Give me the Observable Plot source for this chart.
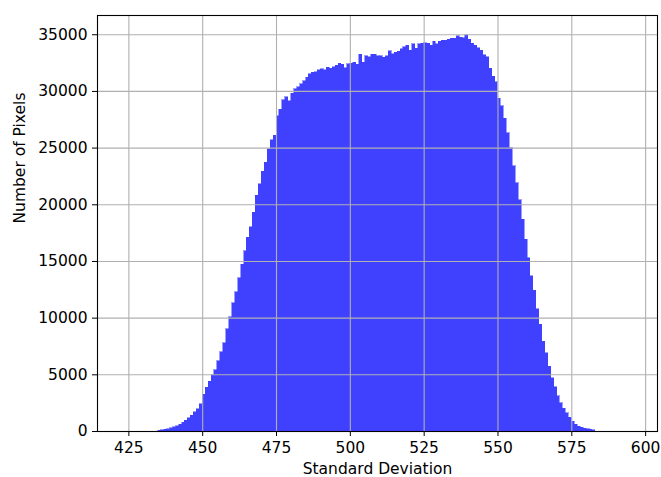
<!DOCTYPE html>
<html>
<head>
<meta charset="utf-8">
<script src="https://cdn.jsdelivr.net/npm/d3@7"></script>
<script src="https://cdn.jsdelivr.net/npm/@observablehq/plot@0.6"></script>
<style>
  html, body { margin: 0; padding: 0; background: #fff; }
  #chart svg { display: block; }
  #chart rect.bar-rect, #chart g.bars rect { shape-rendering: crispEdges; }
</style>
</head>
<body>
<div id="chart"></div>
<script>
// Bin left edges (Standard Deviation), bin width 1
const binStart = [
  435,436,437,438,439,440,441,442,443,444,445,446,447,448,449,
  450,451,452,453,454,455,456,457,458,459,460,461,462,463,464,
  465,466,467,468,469,470,471,472,473,474,475,476,477,478,479,
  480,481,482,483,484,485,486,487,488,489,490,491,492,493,494,
  495,496,497,498,499,500,501,502,503,504,505,506,507,508,509,
  510,511,512,513,514,515,516,517,518,519,520,521,522,523,524,
  525,526,527,528,529,530,531,532,533,534,535,536,537,538,539,
  540,541,542,543,544,545,546,547,548,549,550,551,552,553,554,
  555,556,557,558,559,560,561,562,563,564,565,566,567,568,569,
  570,571,572,573,574,575,576,577,578,579,580,581,582
];
const binWidth = 1;
// Number of pixels in each bin
const pixelCount = [
  60,100,150,200,280,380,480,600,780,950,1150,1400,1700,1950,2400,
  3250,3850,4400,4950,5400,6200,7000,7800,9000,10100,11300,12300,13500,14700,15900,
  17100,18000,19300,20800,21800,22900,23700,24900,25700,26100,27800,28400,29200,29500,29150,
  29800,30200,30350,30650,30900,31200,31500,31650,31700,31850,31950,31850,32100,32000,32150,
  32250,32450,32350,32050,32400,32450,32550,32350,33250,32550,33100,33000,33250,33250,33100,
  33100,32950,33100,33550,33300,33400,33500,33700,33900,34050,33600,34150,33750,34150,34200,
  34250,34200,34050,34400,34150,34400,34450,34450,34550,34650,34650,34850,34750,34700,34950,
  34550,34200,34050,33800,33600,33200,33000,32000,31300,30800,29350,28700,27600,26300,25000,
  23400,21900,20400,18700,16900,15300,13700,12400,10800,9400,7900,6900,5700,4700,3900,
  3100,2500,2000,1600,1200,850,600,430,340,260,180,140,100
];
const xTicks = [425, 450, 475, 500, 525, 550, 575, 600];
const yTicks = [0, 5000, 10000, 15000, 20000, 25000, 30000, 35000];
const xLabel = "Standard Deviation";
const yLabel = "Number of Pixels";

const data = binStart.map((s, i) => ({x0: s, x1: s + binWidth, count: pixelCount[i]}));

// matplotlib-style autoscale: 5% margins on x, y from 0 to max*1.05
const dataMin = 423, dataMax = 595.4;
const span = dataMax - dataMin;
const xDomain = [dataMin - 0.05 * span, dataMax + 0.05 * span];
const yDomain = [0, d3.max(pixelCount) * 1.05];

const font = "DejaVu Sans, sans-serif";
const fs = 15.5;
const chart = Plot.plot({
  width: 661,
  height: 477,
  marginLeft: 97,
  marginRight: 4,
  marginTop: 15,
  marginBottom: 46,
  style: {fontFamily: font, fontSize: fs + "px", color: "#000", background: "#fff"},
  x: {domain: xDomain},
  y: {domain: yDomain},
  marks: [
    Plot.rectY(data, {x1: "x0", x2: "x1", y: "count", fill: "#4040ff", stroke: "#4040ff", strokeWidth: 0.5, className: "bars"}),
    Plot.gridX(xTicks, {stroke: "#b0b0b0", strokeOpacity: 1, strokeWidth: 1.1}),
    Plot.gridY(yTicks, {stroke: "#b0b0b0", strokeOpacity: 1, strokeWidth: 1.1}),
    Plot.axisX(xTicks, {tickSize: 5, tickPadding: 5, fontSize: fs, label: null, stroke: "#000"}),
    Plot.axisY(yTicks, {tickSize: 5, tickPadding: 5, fontSize: fs, label: null, stroke: "#000", tickFormat: d => String(d)}),
    Plot.frame({stroke: "#000", strokeWidth: 1.1}),
    Plot.text([xLabel], {text: d => d, frameAnchor: "bottom", dy: 38, lineAnchor: "middle", fontSize: fs, fill: "#000"}),
    Plot.text([yLabel], {text: d => d, frameAnchor: "left", dx: -77, rotate: -90, lineAnchor: "middle", fontSize: fs, fill: "#000"})
  ]
});
document.getElementById("chart").appendChild(chart);
</script>
</body>
</html>
